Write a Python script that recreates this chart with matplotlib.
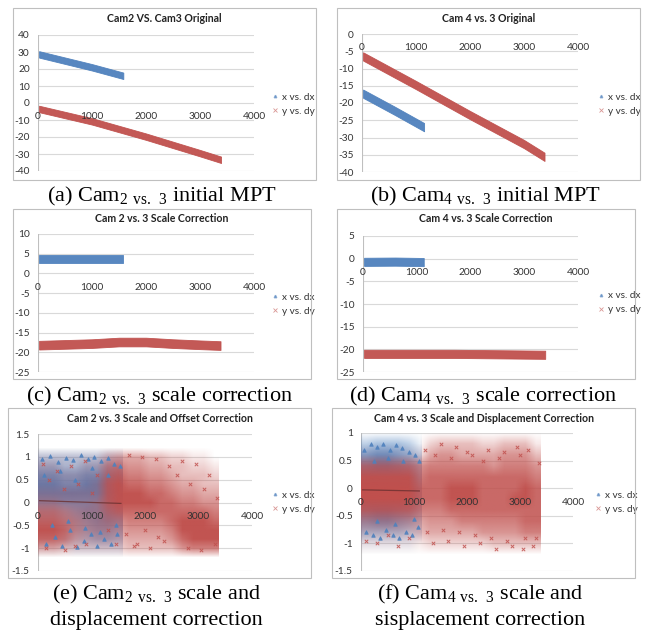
import numpy as np
import matplotlib
matplotlib.use("Agg")
import matplotlib.pyplot as plt
from matplotlib.patches import Rectangle
from matplotlib.lines import Line2D
from matplotlib.colors import to_rgb

# -----------------------------
# DATA
# -----------------------------
BLUE = "#4F81BD"
RED = "#C0504D"

# (a) Cam2 vs Cam3 original: dense bands -> centre line + half thickness
a_blue_x = [20, 1000, 1580]
a_blue_y = [28.6, 21.0, 16.0]
a_red_x = [20, 1000, 2000, 3000, 3390]
a_red_y = [-3.5, -10.8, -19.8, -29.5, -33.4]
a_half = 1.9

# (b) Cam4 vs Cam3 original
b_blue_x = [20, 600, 1150]
b_blue_y = [-17.3, -22.2, -27.0]
b_red_x = [20, 1000, 2000, 3000, 3380]
b_red_y = [-6.5, -14.8, -23.5, -31.9, -35.6]
b_half = 1.2

# (c) Cam2 vs Cam3 scale correction
c_blue_x = [20, 800, 1580]
c_blue_y = [3.7, 3.7, 3.7]
c_red_x = [20, 1000, 1500, 2000, 2500, 3000, 3380]
c_red_y = [-18.2, -17.8, -17.4, -17.4, -17.8, -18.1, -18.3]
c_half = 1.1

# (d) Cam4 vs Cam3 scale correction
d_blue_x = [20, 600, 1130]
d_blue_y = [-0.7, -0.65, -0.75]
d_red_x = [20, 1700, 3390]
d_red_y = [-21.0, -21.0, -21.2]
d_half = 0.9

# (e), (f): point density read off the clouds, 0 (empty) .. 9 (solid)
# columns: 200 wide from x=0 to 3400, rows: 0.2 high, top row first
e_y_range = (-1.1, 1.1)
e_blue_xmax = 1580
e_red_xmax = 3380
e_blue_grid = [
    "33333332000000000",
    "55445554000000000",
    "77667776000000000",
    "88778887000000000",
    "88888887000000000",
    "77777776000000000",
    "55567776000000000",
    "44456776000000000",
    "33345665000000000",
    "22334554000000000",
    "11122222000000000",
]
e_red_grid = [
    "11111134443322110",
    "22112256554433221",
    "22222267665543332",
    "22222378776654433",
    "33333378887765544",
    "44333478888776655",
    "66544467777777776",
    "77654455666678887",
    "88754444555568888",
    "77643333444457888",
    "44322222333335666",
]
e_trend_x = [30, 1550]
e_trend_y = [0.04, -0.02]

f_y_range = (-1.1, 0.9)
f_blue_xmax = 1140
f_red_xmax = 3390
f_blue_grid = [
    "344431",
    "677653",
    "788764",
    "888875",
    "888875",
    "888875",
    "788764",
    "677653",
    "444432",
    "111110",
]
f_red_grid = [
    "00000023333223331",
    "11111145544445553",
    "66666566666656665",
    "88888677777777776",
    "99999777888777787",
    "99999777888777887",
    "77777666777777777",
    "44444455566666677",
    "22222344444555566",
    "11111122222233333",
]
f_trend_x = [30, 1100]
f_trend_y = [-0.03, -0.05]

# scattered single points at the cloud edges
e_blue_px = [80, 150, 230, 310, 380, 450, 520, 600, 660, 720, 800, 860, 930, 990, 1050, 1110,
             1180, 1240, 1300, 1360, 1420, 1480, 1530, 120, 420, 700, 1000, 1300, 260, 560, 880, 1150, 1450]
e_blue_py = [0.95, -0.9, 1.02, -0.75, 0.88, -0.95, 0.98, -0.6, 0.92, -0.98, 1.05, -0.85, 0.95, -0.7, 1.0, -0.95,
             0.9, -0.8, 0.98, -0.9, 0.85, -0.7, 0.8, 0.6, 0.7, 0.5, 0.75, 0.6, -0.5, -0.4, -0.55, -0.65, -0.5]
e_red_px = [100, 200, 350, 480, 620, 750, 880, 1000, 1100, 1700, 1850, 1950, 2100, 2200, 2350, 2450, 2600, 2700,
            2850, 2950, 3100, 3200, 3300, 3350, 1650, 1800, 2000, 2250, 1300, 1450, 3050, 2800, 150, 500, 900, 700]
e_red_py = [0.85, 0.5, 0.7, 0.3, 0.8, 0.4, 0.9, 0.2, 0.6, 1.05, -0.9, 1.0, -1.0, 0.95, -0.85, 0.8, 0.6, 0.9,
            0.4, 0.85, 0.3, 0.6, -0.9, 0.1, -0.7, -0.95, -0.6, -0.75, -0.6, -0.9, -1.05, -1.0, -1.0, -1.05, -0.9, -0.95]
f_blue_px = [60, 180, 300, 420, 540, 660, 780, 900, 1020, 1100, 100, 220, 350, 480, 600, 720, 850, 960, 1080,
             250, 500, 800, 300, 650, 1000]
f_blue_py = [0.7, 0.8, 0.75, 0.8, 0.7, 0.78, 0.72, 0.65, 0.6, 0.5, -0.8, -0.85, -0.9, -0.75, -0.85, -0.9, -0.8,
             -0.85, -0.7, 0.5, 0.55, 0.5, -0.6, -0.65, -0.55]
f_red_px = [100, 300, 500, 700, 900, 1200, 1350, 1500, 1650, 1800, 1950, 2100, 2250, 2400, 2550, 2700, 2850, 2950,
            3050, 3150, 3250, 3350, 1400, 1700, 2000, 2300, 2600, 3000, 3300, 1250, 1550, 1850, 2150, 2450, 2750, 3100]
f_red_py = [-0.95, -1.0, -0.85, -1.05, -0.9, 0.7, -1.0, 0.8, -0.95, 0.75, -1.05, 0.6, -1.0, 0.7, -1.1, 0.65, -1.05,
            0.75, -1.1, 0.7, -1.05, 0.45, 0.6, 0.55, 0.65, 0.5, 0.55, 0.6, -0.9, -0.8, -0.75, -0.8, -0.85, -0.9,
            -0.95, -0.9]

x_ticks = [0, 1000, 2000, 3000, 4000]
legend_labels = ["x vs. dx", "y vs. dy"]

# -----------------------------
# LAYOUT (pixel positions in the 646x633 picture)
# -----------------------------
W, H = 646, 633
panels = [
    dict(box=(13, 8, 316, 180), plot=(38, 254, 35, 171), ylim=(-40, 40), step=10,
         title="Cam2 VS. Cam3 Original", ty=19, leg=(267, 97),
         cap=[r"(a) Cam$_{\mathrm{2\ vs.\ 3}}$ initial MPT"], cy=[196]),
    dict(box=(337, 8, 640, 180), plot=(362, 578, 34, 172), ylim=(-40, 0), step=5,
         title="Cam 4 vs. 3 Original", ty=19, leg=(593, 97),
         cap=[r"(b) Cam$_{\mathrm{4\ vs.\ 3}}$ initial MPT"], cy=[196]),
    dict(box=(13, 209, 311, 379), plot=(38, 254, 234, 372), ylim=(-25, 10), step=5,
         title="Cam 2 vs. 3 Scale Correction", ty=219, leg=(267, 297),
         cap=[r"(c) Cam$_{\mathrm{2\ vs.\ 3}}$ scale correction"], cy=[396]),
    dict(box=(337, 209, 635, 379), plot=(363, 578, 236, 372), ylim=(-25, 5), step=5,
         title="Cam 4 vs. 3 Scale Correction", ty=219, leg=(593, 296),
         cap=[r"(d) Cam$_{\mathrm{4\ vs.\ 3}}$ scale correction"], cy=[396]),
    dict(box=(8, 408, 311, 578), plot=(38, 252, 434, 571), ylim=(-1.5, 1.5), step=0.5,
         title="Cam 2 vs. 3 Scale and Offset Correction", ty=418, leg=(267, 495),
         cap=[r"(e) Cam$_{\mathrm{2\ vs.\ 3}}$ scale and", "displacement correction"], cy=[594, 621]),
    dict(box=(332, 408, 635, 578), plot=(361, 573, 433, 571), ylim=(-1.5, 1.0), step=0.5,
         title="Cam 4 vs. 3 Scale and Displacement Correction", ty=418, leg=(590, 495),
         cap=[r"(f) Cam$_{\mathrm{4\ vs.\ 3}}$ scale and", "sisplacement correction"], cy=[594, 621]),
]

plt.rcParams["font.family"] = ["Lato", "DejaVu Sans"]
plt.rcParams["mathtext.fontset"] = "custom"
plt.rcParams["mathtext.rm"] = "Liberation Serif"

fig = plt.figure(figsize=(W / 100, H / 100), dpi=100)


def fx(px):
    return px / W


def fy(py):
    return 1 - py / H


def setup(p):
    x0, x1, yt, yb = p["plot"]
    ax = fig.add_axes([fx(x0), fy(yb), (x1 - x0) / W, (yb - yt) / H])
    ax.set_xlim(0, 4000)
    ax.set_ylim(*p["ylim"])
    for s in ax.spines.values():
        s.set_visible(False)
    yt_vals = np.arange(p["ylim"][0], p["ylim"][1] + p["step"] / 2, p["step"])
    for v in yt_vals:
        ax.axhline(v, color="#D9D9D9", lw=0.8, zorder=0)
    ax.axvline(0, color="#BFBFBF", lw=0.8, zorder=0)
    ax.set_yticks(yt_vals)
    ax.set_yticklabels(["%g" % v for v in yt_vals])
    ax.tick_params(axis="y", length=0, pad=6, labelsize=7.3, labelcolor="#333333")
    ax.set_xticks([])
    for xv in x_ticks:
        ax.annotate(str(xv), xy=(xv, 0), xytext=(0, -10), textcoords="offset points",
                    ha="center", va="center", fontsize=7.3, color="#333333", zorder=5)
    # frame around the excel chart
    l, t, r, b = p["box"]
    fig.patches.append(Rectangle((fx(l), fy(b)), (r - l) / W, (b - t) / H, transform=fig.transFigure,
                                 fill=False, edgecolor="#BFBFBF", lw=0.8))
    fig.text(fx((l + r) / 2), fy(p["ty"]), p["title"], ha="center", va="center",
             fontsize=7.6, fontweight="bold", color="#222222")
    for line, cy in zip(p["cap"], p["cy"]):
        fig.text(fx((l + r) / 2 - 3), fy(cy), line, ha="center", va="center",
                 fontsize=16, family="Liberation Serif", color="black")
    lx, ly = p["leg"]
    handles = [Line2D([], [], ls="none", marker="^", ms=1.8, color=BLUE, alpha=0.6),
               Line2D([], [], ls="none", marker="x", ms=2.2, color=RED, mew=0.6, alpha=0.6)]
    ax.legend(handles, legend_labels, loc="center left", bbox_to_anchor=(fx(lx), fy(ly + 7)),
              bbox_transform=fig.transFigure, frameon=False, fontsize=7.2, handlelength=0.5,
              handletextpad=0.5, labelspacing=0.5, borderpad=0, labelcolor="#333333")
    return ax


def band(ax, xs, ys, hw, color):
    ys = np.asarray(ys)
    ax.fill_between(xs, ys - hw, ys + hw, color=color, lw=0.6, edgecolor=color, alpha=0.95, zorder=2)


def cloud(ax, grid, y_range, xmax, px, py, color, marker, gain=1.1):
    d = np.array([[int(ch) for ch in row] for row in grid], dtype=float) / 9.0
    nrow = d.shape[0]
    dx = 200.0
    dy = (y_range[1] - y_range[0]) / nrow
    last = int(np.nonzero(d.sum(axis=0))[0].max())
    d = d[:, :last + 1]
    d = np.pad(d, ((1, 1), (1, 1)), mode="edge")
    d[0, :] = 0
    d[-1, :] = 0
    rgba = np.zeros(d.shape + (4,))
    rgba[..., :3] = to_rgb(color)
    rgba[..., 3] = np.clip(d * gain, 0, 1)
    im = ax.imshow(rgba, extent=(-dx, (last + 2) * dx, y_range[0] - dy, y_range[1] + dy), origin="upper",
                   aspect="auto", interpolation="bilinear", zorder=2)
    im.set_clip_path(Rectangle((0, -5), xmax, 10, transform=ax.transData))
    ax.scatter(px, py, s=6, marker=marker, color=color, alpha=0.85, lw=0.7, zorder=3)


# -----------------------------
# PANELS
# -----------------------------
axs = [setup(p) for p in panels]

band(axs[0], a_blue_x, a_blue_y, a_half, BLUE)
band(axs[0], a_red_x, a_red_y, a_half, RED)

band(axs[1], b_blue_x, b_blue_y, b_half, BLUE)
band(axs[1], b_red_x, b_red_y, b_half, RED)

band(axs[2], c_blue_x, c_blue_y, c_half, BLUE)
band(axs[2], c_red_x, c_red_y, c_half, RED)

band(axs[3], d_blue_x, d_blue_y, d_half, BLUE)
band(axs[3], d_red_x, d_red_y, d_half, RED)

cloud(axs[4], e_blue_grid, e_y_range, e_blue_xmax, e_blue_px, e_blue_py, BLUE, "^")
cloud(axs[4], e_red_grid, e_y_range, e_red_xmax, e_red_px, e_red_py, RED, "x")
axs[4].plot(e_trend_x, e_trend_y, color="#6B3030", lw=0.9, alpha=0.8, zorder=4)

cloud(axs[5], f_blue_grid, f_y_range, f_blue_xmax, f_blue_px, f_blue_py, BLUE, "^")
cloud(axs[5], f_red_grid, f_y_range, f_red_xmax, f_red_px, f_red_py, RED, "x")
axs[5].plot(f_trend_x, f_trend_y, color="#6B3030", lw=0.9, alpha=0.8, zorder=4)

for ax, p in zip(axs, panels):
    ax.set_xlim(0, 4000)
    ax.set_ylim(*p["ylim"])

fig.savefig("out.png", dpi=100)
